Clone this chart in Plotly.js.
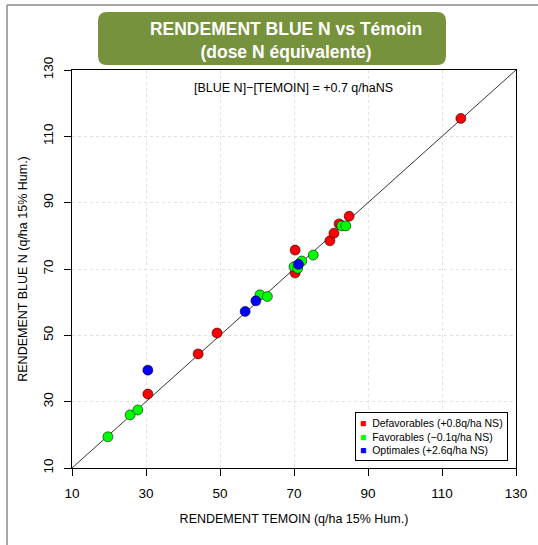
<!DOCTYPE html>
<html>
<head>
<meta charset="utf-8">
<script src="https://cdn.plot.ly/plotly-3.0.1.min.js"></script>
<style>
  html, body { margin: 0; padding: 0; background: #fff; }
  #chart { width: 538px; height: 545px; }
</style>
</head>
<body>
<div id="chart"></div>
<script>
// Yields (q/ha at 15% moisture): untreated control (x) vs BLUE N (y), by situation
const defavX = [30.5, 44.1, 49.2, 70.3, 70.3, 79.7, 80.8, 82.2, 84.9, 115.1];
const defavY = [32.3, 44.4, 50.7, 68.8, 75.7, 78.5, 80.8, 83.6, 85.9, 115.4];

const favX = [19.7, 25.7, 27.8, 60.8, 62.8, 70.0, 71.0, 72.1, 75.2, 82.9, 84.0];
const favY = [19.4, 26.0, 27.5, 62.2, 61.7, 70.7, 70.2, 72.4, 74.2, 83.0, 83.0];

const optX = [30.5, 56.8, 59.7, 71.2];
const optY = [39.5, 57.2, 60.4, 71.4];

const groupNames = [
  'Defavorables (+0.8q/ha NS)',
  'Favorables (\u22120.1q/ha NS)',
  'Optimales (+2.6q/ha NS)'
];
const groupColors = ['#ff0000', '#00ff00', '#0000ff'];

const axisRange = [10, 130];
const tickVals = [10, 30, 50, 70, 90, 110, 130];

const FONT = 'Liberation Sans, Arial, Helvetica, sans-serif';

// pixel -> paper helpers for decorations (plot area 72..516 x 70..468)
const L = 72, R = 22, T = 70, B = 77, W = 538, H = 545;
const pw = W - L - R, ph = H - T - B;
const px = v => (v - L) / pw;
const py = v => (H - B - v) / ph;

function pts(x, y, color) {
  return {
    type: 'scatter', mode: 'markers', x: x, y: y, showlegend: false,
    hoverinfo: 'x+y',
    marker: { color: color, size: 10, line: { color: 'rgba(0,0,0,0.7)', width: 0.8 } }
  };
}

const traces = [
  {
    type: 'scatter', mode: 'lines', x: axisRange, y: axisRange, showlegend: false,
    line: { color: '#000', width: 0.8 }, hoverinfo: 'skip'
  },
  pts(defavX, defavY, groupColors[0]),
  pts(favX, favY, groupColors[1]),
  pts(optX, optY, groupColors[2])
];

// rounded green banner behind the title
function roundRect(x0, y0, x1, y1, r) {
  const X0 = px(x0), X1 = px(x1), Y0 = py(y0), Y1 = py(y1);
  const rx = r / pw, ry = r / ph;
  return `M ${X0 + rx} ${Y0} L ${X1 - rx} ${Y0} Q ${X1} ${Y0} ${X1} ${Y0 - ry} ` +
         `L ${X1} ${Y1 + ry} Q ${X1} ${Y1} ${X1 - rx} ${Y1} ` +
         `L ${X0 + rx} ${Y1} Q ${X0} ${Y1} ${X0} ${Y1 + ry} ` +
         `L ${X0} ${Y0 - ry} Q ${X0} ${Y0} ${X0 + rx} ${Y0} Z`;
}

const legendText = groupNames.map((n, i) =>
  `<span style="color:${groupColors[i]}">\u25A0</span>  ${n}`).join('<br>');

const axisCommon = {
  range: axisRange, tickvals: tickVals, ticktext: tickVals.map(String),
  ticks: 'outside', ticklen: 7, tickwidth: 1, tickcolor: '#000',
  showline: true, linecolor: '#000', linewidth: 1, mirror: true,
  showgrid: true, gridcolor: '#e2e2e2', griddash: 'dot', gridwidth: 1,
  zeroline: false, tickfont: { family: FONT, size: 13.5, color: '#000' }
};

const layout = {
  width: W, height: H,
  margin: { l: L, r: R, t: T, b: B },
  paper_bgcolor: '#fff', plot_bgcolor: '#fff',
  font: { family: FONT, color: '#000' },
  title: {
    text: '<b>RENDEMENT BLUE N vs Témoin<br>(dose N équivalente)</b>',
    font: { family: FONT, size: 17.5, color: '#fff' },
    xref: 'paper', x: px(286), xanchor: 'center',
    yref: 'container', y: 1 - 35 / H, yanchor: 'middle'
  },
  xaxis: Object.assign({}, axisCommon, {
    ticklabelstandoff: 6,
    title: { text: 'RENDEMENT TEMOIN (q/ha 15% Hum.)', font: { family: FONT, size: 12.5 }, standoff: 14 }
  }),
  yaxis: Object.assign({}, axisCommon, {
    tickangle: -90, ticklabelstandoff: 6,
    title: { text: 'RENDEMENT BLUE N (q/ha 15% Hum.)', font: { family: FONT, size: 12.5 }, standoff: 10 }
  }),
  shapes: [
    { type: 'path', xref: 'paper', yref: 'paper', path: roundRect(98, 12, 446, 65, 9),
      fillcolor: '#76923c', line: { width: 0 }, layer: 'below' },
    { type: 'line', xref: 'paper', yref: 'paper', x0: px(7), x1: px(538), y0: py(5), y1: py(5),
      line: { color: '#8a8a8a', width: 1.5 } },
    { type: 'line', xref: 'paper', yref: 'paper', x0: px(7), x1: px(7), y0: py(5), y1: py(545),
      line: { color: '#8a8a8a', width: 1.5 } }
  ],
  annotations: [
    { xref: 'paper', yref: 'paper', x: px(293), y: py(88), xanchor: 'center', yanchor: 'middle',
      text: '[BLUE N]\u2212[TEMOIN] = +0.7 q/haNS', showarrow: false,
      font: { family: FONT, size: 12.5, color: '#000' } },
    { xref: 'paper', yref: 'paper', x: px(508), y: py(461), xanchor: 'right', yanchor: 'bottom',
      text: legendText, showarrow: false, align: 'left',
      bordercolor: '#000', borderwidth: 1, borderpad: 4, bgcolor: '#fff',
      font: { family: FONT, size: 10.5, color: '#000' } }
  ]
};

Plotly.newPlot('chart', traces, layout, { staticPlot: true, displayModeBar: false });
</script>
</body>
</html>
